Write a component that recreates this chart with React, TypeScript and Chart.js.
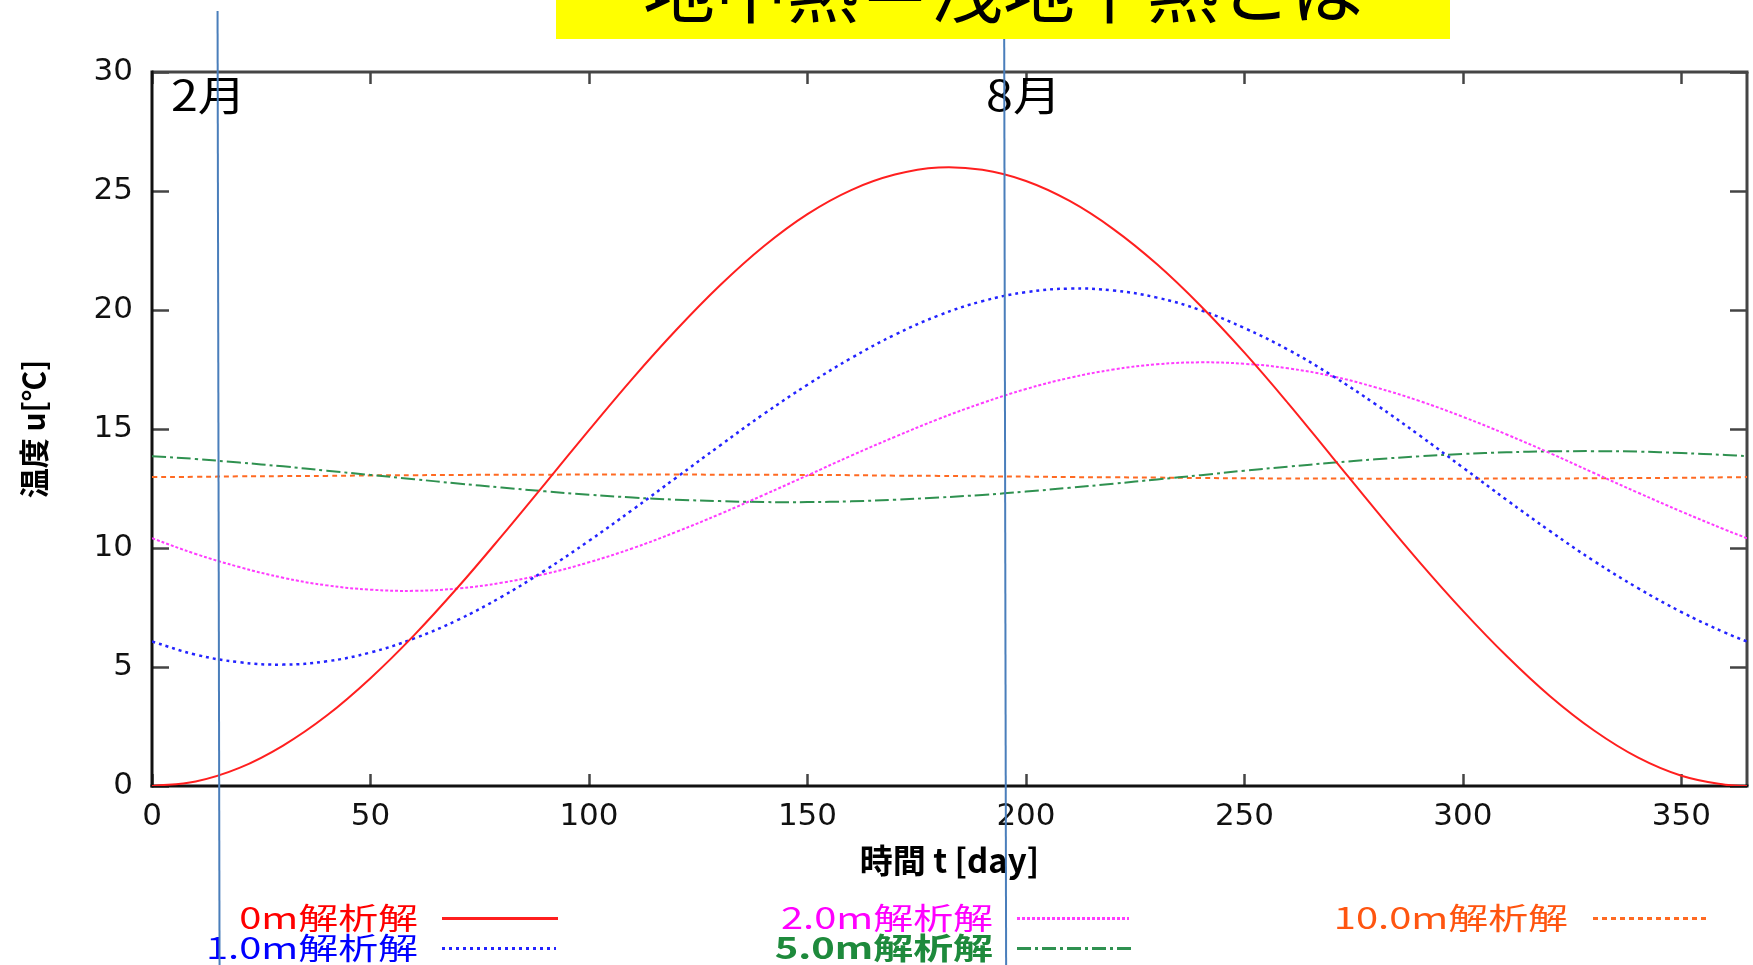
import React, { useEffect, useRef } from 'react';
import { Chart, registerables } from 'chart.js';

Chart.register(...registerables);

// ---- data ----
const DAYS = [0, 10, 20, 30, 40, 50, 60, 70, 80, 90, 100, 110, 120, 130, 140, 150, 160, 170, 180, 190, 200, 210, 220, 230, 240, 250, 260, 270, 280, 290, 300, 310, 320, 330, 340, 350, 360, 365];
const U_0M = [0, 0.19, 0.76, 1.70, 2.96, 4.53, 6.34, 8.35, 10.50, 12.72, 14.95, 17.13, 19.17, 21.04, 22.68, 24.03, 25.04, 25.69, 25.99, 25.89, 25.42, 24.58, 23.40, 21.92, 20.17, 18.21, 16.08, 13.84, 11.60, 9.42, 7.36, 5.46, 3.76, 2.33, 1.20, 0.43, 0.05, 0];
const U_1M = [6.07, 5.52, 5.20, 5.10, 5.24, 5.61, 6.20, 6.98, 7.95, 9.07, 10.30, 11.61, 12.96, 14.31, 15.63, 16.86, 17.98, 18.96, 19.77, 20.37, 20.75, 20.90, 20.82, 20.52, 19.99, 19.24, 18.33, 17.25, 16.04, 14.74, 13.38, 12.02, 10.70, 9.45, 8.32, 7.31, 6.44, 6.07];
const U_2M = [10.41, 9.75, 9.20, 8.75, 8.43, 8.25, 8.20, 8.30, 8.54, 8.91, 9.40, 9.99, 10.68, 11.43, 12.23, 13.05, 13.88, 14.67, 15.42, 16.09, 16.68, 17.15, 17.50, 17.72, 17.80, 17.74, 17.55, 17.22, 16.75, 16.18, 15.51, 14.77, 13.98, 13.15, 12.33, 11.53, 10.77, 10.41];
const U_5M = [13.86, 13.74, 13.59, 13.43, 13.25, 13.07, 12.89, 12.71, 12.54, 12.38, 12.24, 12.12, 12.03, 11.97, 11.93, 11.93, 11.96, 12.03, 12.12, 12.23, 12.37, 12.53, 12.70, 12.88, 13.06, 13.25, 13.42, 13.58, 13.73, 13.85, 13.95, 14.02, 14.06, 14.07, 14.05, 13.99, 13.91, 13.86];
const U_10M = [12.98, 12.99, 13.01, 13.02, 13.03, 13.05, 13.06, 13.07, 13.08, 13.08, 13.09, 13.09, 13.09, 13.08, 13.08, 13.07, 13.06, 13.04, 13.03, 13.01, 13.00, 12.98, 12.97, 12.96, 12.94, 12.93, 12.92, 12.92, 12.91, 12.91, 12.91, 12.92, 12.92, 12.93, 12.94, 12.95, 12.97, 12.98];

const SERIES_LABELS = ['0m解析解', '1.0m解析解', '2.0m解析解', '5.0m解析解', '10.0m解析解'];
const X_TICKS = [0, 50, 100, 150, 200, 250, 300, 350];
const Y_TICKS = [0, 5, 10, 15, 20, 25, 30];
const MONTH_LABELS = ['2月', '8月'];
const MONTH_DAYS = [15, 195];
const TITLE = '地中熱＝浅地下熱とは';
const X_TITLE = '時間 t [day]';
const Y_TITLE = '温度 u[℃]';

// ---- styles ----
const LINE_COLORS = ['#ff1f1f', '#2323ff', '#ff3cff', '#2f9150', '#ff6a22'];
const TEXT_COLORS = ['#ff0000', '#0000ff', '#ff00ff', '#1e8a3c', '#ff5510'];
const DASHES: number[][] = [[], [3, 4], [3, 2], [14, 4, 3, 4], [5, 4]];
const LEGEND_POS = [
  { xr: 418, x0: 442, x1: 558, y: 918 },
  { xr: 418, x0: 442, x1: 556, y: 948 },
  { xr: 993, x0: 1017, x1: 1129, y: 918 },
  { xr: 993, x0: 1017, x1: 1131, y: 948 },
  { xr: 1568, x0: 1593, x1: 1707, y: 918 },
];
const CJK = '"Noto Sans CJK JP", sans-serif';

const decor = {
  id: 'decor',
  beforeDatasetsDraw(chart: any) {
    const { ctx, chartArea: a, scales } = chart;
    const x = scales.x;
    const y = scales.y;
    ctx.save();
    const seg = (x0: number, y0: number, x1: number, y1: number) => {
      ctx.beginPath();
      ctx.moveTo(x0, y0);
      ctx.lineTo(x1, y1);
      ctx.stroke();
    };
    ctx.strokeStyle = '#444';
    ctx.lineWidth = 2.5;
    X_TICKS.forEach((v) => {
      const px = Math.round(x.getPixelForValue(v)) + 0.5;
      seg(px, a.bottom, px, a.bottom - 12);
      seg(px, a.top, px, a.top + 12);
    });
    Y_TICKS.forEach((v) => {
      const py = Math.round(y.getPixelForValue(v)) + 0.5;
      seg(a.left, py, a.left + 17, py);
      seg(a.right, py, a.right - 17, py);
    });
    // frame
    ctx.lineWidth = 3;
    ctx.strokeStyle = '#454545';
    seg(a.left, a.top, a.right + 1.5, a.top);
    seg(a.right, a.top, a.right, a.bottom);
    ctx.strokeStyle = '#111';
    seg(a.left, a.top - 1.5, a.left, a.bottom + 1.5);
    seg(a.left - 1.5, a.bottom, a.right + 1.5, a.bottom);
    ctx.restore();
  },
  afterDraw(chart: any) {
    const { ctx, chartArea: a, scales, data } = chart;
    const x = scales.x;
    ctx.save();
    // month labels
    ctx.fillStyle = '#000';
    ctx.font = '42px ' + CJK;
    ctx.textBaseline = 'alphabetic';
    ctx.textAlign = 'left';
    const mx = [a.left + 19, x.getPixelForValue(MONTH_DAYS[1]) - 18];
    MONTH_LABELS.forEach((t, i) => {
      ctx.save();
      ctx.translate(mx[i], 111);
      ctx.scale(1.15, 1);
      ctx.fillText(t, 0, 0);
      ctx.restore();
    });
    // legend
    data.datasets.forEach((ds: any, i: number) => {
      const p = LEGEND_POS[i];
      ctx.save();
      ctx.translate(p.xr, p.y);
      ctx.scale(1.33, 1);
      ctx.font = (i === 3 ? 'bold ' : '') + '30px ' + CJK;
      ctx.fillStyle = TEXT_COLORS[i];
      ctx.textAlign = 'right';
      ctx.textBaseline = 'middle';
      ctx.fillText(ds.label, 0, 0);
      ctx.restore();
      ctx.save();
      ctx.strokeStyle = ds.borderColor;
      ctx.lineWidth = i === 0 ? 3 : 3;
      ctx.setLineDash(ds.borderDash || []);
      ctx.beginPath();
      ctx.moveTo(p.x0, p.y + 0.5);
      ctx.lineTo(p.x1, p.y + 0.5);
      ctx.stroke();
      ctx.restore();
    });
    // month marker lines
    ctx.strokeStyle = '#4a7ebb';
    ctx.lineWidth = 2;
    MONTH_DAYS.forEach((d, i) => {
      const px = x.getPixelForValue(d);
      ctx.beginPath();
      ctx.moveTo(px, i === 0 ? 11 : 0);
      ctx.lineTo(px + 2, chart.height);
      ctx.stroke();
    });
    ctx.restore();
  },
};

export default function App() {
  const ref = useRef<HTMLCanvasElement>(null);
  useEffect(() => {
    const series = [U_0M, U_1M, U_2M, U_5M, U_10M];
    const chart = new Chart(ref.current as HTMLCanvasElement, {
      type: 'line',
      data: {
        datasets: series.map((s, i) => ({
          label: SERIES_LABELS[i],
          data: DAYS.map((d, j) => ({ x: d, y: s[j] })),
          borderColor: LINE_COLORS[i],
          borderWidth: i === 1 ? 2.5 : 2,
          borderDash: DASHES[i],
          pointRadius: 0,
          tension: 0.4,
          fill: false,
        })),
      },
      options: {
        animation: false,
        responsive: false,
        devicePixelRatio: 1,
        layout: { padding: { top: 72, right: 6, left: 0, bottom: 84 }, autoPadding: false },
        plugins: { legend: { display: false }, tooltip: { enabled: false } },
        scales: {
          x: {
            type: 'linear',
            min: 0,
            max: 365,
            grid: { display: false, drawTicks: false, tickLength: 0 },
            border: { display: false },
            afterBuildTicks: (s: any) => { s.ticks = X_TICKS.map((v) => ({ value: v })); },
            afterFit: (s: any) => { s.height = 95; },
            ticks: { padding: 12, color: '#111', font: { family: '"DejaVu Sans"', size: 31 }, maxRotation: 0, autoSkip: false },
            title: { display: true, text: X_TITLE, color: '#000', font: { family: CJK, size: 33, weight: 'bold' }, padding: { top: 0, bottom: 1 } },
          },
          y: {
            type: 'linear',
            min: 0,
            max: 30,
            grid: { display: false, drawTicks: false, tickLength: 0 },
            border: { display: false },
            afterBuildTicks: (s: any) => { s.ticks = Y_TICKS.map((v) => ({ value: v })); },
            afterFit: (s: any) => { s.width = 152; },
            ticks: { padding: 19, color: '#111', font: { family: '"DejaVu Sans"', size: 31 }, autoSkip: false },
            title: { display: true, text: Y_TITLE, color: '#000', font: { family: CJK, size: 30, weight: 'bold' }, padding: { top: 16, bottom: 0 } },
          },
        },
      } as any,
      plugins: [decor],
    });
    return () => chart.destroy();
  }, []);

  return (
    <div style={{ position: 'absolute', left: 0, top: 0, width: 1753, height: 965, background: '#fff', overflow: 'hidden' }}>
      <canvas ref={ref} width={1753} height={965} style={{ position: 'absolute', left: 0, top: 0 }} />
      <div style={{ position: 'absolute', left: 556, top: 0, width: 894, height: 39, background: '#ffff00', overflow: 'hidden' }}>
        <div style={{ position: 'absolute', left: 0, right: 0, top: -50, fontSize: 72, lineHeight: '72px', textAlign: 'center', fontFamily: CJK, color: '#000', whiteSpace: 'nowrap' }}>
          {TITLE}
        </div>
      </div>
    </div>
  );
}
